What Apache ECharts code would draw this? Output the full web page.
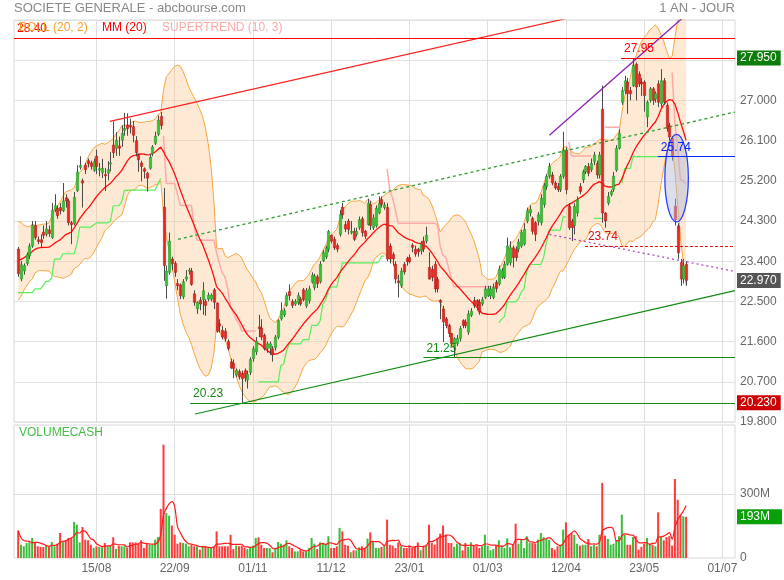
<!DOCTYPE html>
<html><head><meta charset="utf-8">
<script src="https://cdn.jsdelivr.net/npm/echarts@6/dist/echarts.min.js"></script>
<style>html,body{margin:0;padding:0;background:#fff}#c{width:784px;height:580px}</style>
</head><body><div id="c"></div>
<script>
// ---- warm-up history (before the visible window, needed for indicator start values) ----
const warmHighs  = [22.95,22.85,22.95,23.10,23.20,23.15,23.45,23.80,24.05,24.30,24.15,24.00,23.85,23.90,23.95,23.85,23.75,23.85,23.85];
const warmLows   = [22.45,22.40,22.50,22.70,22.80,22.70,22.95,23.30,23.60,23.85,23.70,23.55,23.40,23.50,23.55,23.40,23.30,23.45,23.40];
const warmCloses = [22.70,22.60,22.80,22.90,23.00,22.90,23.30,23.60,23.90,24.10,23.90,23.80,23.60,23.70,23.80,23.60,23.50,23.70,23.67];

// ---- daily OHLC (240 sessions) ----
const opens = [
23.67,23.00,23.18,23.35,23.52,23.74,24.20,23.88,23.88,24.05,
24.00,24.10,23.93,24.55,24.58,24.60,24.53,24.82,24.75,24.26,
24.24,24.98,25.50,25.20,25.55,25.65,25.60,25.43,25.75,25.44,
25.38,25.34,25.37,25.58,26.00,25.93,25.98,26.11,26.33,26.45,
26.44,26.41,26.10,25.78,25.60,25.47,25.37,25.48,25.81,26.04,
26.24,26.64,24.61,22.85,23.15,23.45,23.35,22.90,22.87,22.60,
23.00,23.18,23.18,22.67,22.33,22.53,22.54,22.50,22.55,22.55,
22.76,22.46,22.00,21.85,21.83,21.60,21.15,21.11,20.85,20.93,
20.89,20.95,20.74,20.91,21.22,21.37,21.93,21.90,21.74,21.44,
21.46,21.44,21.46,21.70,22.11,22.20,22.41,22.72,22.50,22.44,
22.47,22.55,22.76,22.40,22.52,22.93,22.81,23.05,22.94,23.41,
23.50,23.67,23.98,23.89,23.75,24.00,24.61,24.22,24.30,24.04,
24.07,24.00,24.15,24.35,24.07,24.22,24.67,24.15,24.19,24.48,
24.78,24.60,24.60,23.74,23.55,23.33,22.96,22.85,23.33,23.46,
23.48,23.76,23.67,23.67,23.63,23.85,23.85,23.26,23.22,23.33,
22.99,22.52,22.33,22.11,21.96,21.78,21.48,21.56,21.67,22.07,
22.04,21.81,22.19,22.52,22.52,22.48,22.44,22.59,22.63,22.63,
22.59,22.93,22.89,23.04,23.04,23.33,23.37,23.70,23.67,23.67,
23.74,23.78,24.30,24.48,24.36,24.26,24.28,24.26,24.67,25.07,
25.30,25.33,25.15,25.07,25.00,25.30,25.89,24.63,24.30,24.20,
24.48,25.07,25.22,25.40,25.52,25.45,25.63,25.59,25.33,26.80,
24.48,24.70,24.89,25.00,25.44,25.93,26.96,27.22,27.41,27.22,
27.33,27.81,27.59,27.41,27.41,26.63,27.00,27.26,27.03,27.37,
26.93,27.44,26.89,26.44,26.15,24.63,24.19,23.37,23.00,23.33];
const highs = [
23.72,23.40,23.35,23.60,23.80,24.30,24.30,23.95,24.00,24.20,
24.30,24.20,24.70,24.90,24.65,24.70,25.15,24.90,24.80,24.30,
24.95,25.55,25.75,25.25,25.60,25.70,25.65,25.70,25.90,25.60,
25.69,25.49,25.64,25.84,26.53,26.29,26.19,26.44,26.72,26.71,
26.59,26.54,26.20,25.80,25.65,25.50,25.40,25.80,26.00,26.30,
26.66,26.74,25.04,23.30,24.04,23.50,23.40,23.00,22.90,23.00,
23.20,23.25,23.25,22.75,22.50,22.60,22.93,22.55,22.70,22.68,
22.80,22.48,22.10,21.95,21.90,21.65,21.22,21.20,21.00,20.98,
20.95,21.00,20.95,21.25,21.50,21.70,22.20,22.10,21.78,21.60,
21.60,21.50,21.75,22.10,22.48,22.35,22.70,22.88,22.55,22.55,
22.70,22.60,22.80,22.80,22.85,23.15,23.12,23.10,23.40,23.65,
23.75,24.10,24.00,23.95,23.80,24.55,24.70,24.30,24.35,24.30,
24.15,24.15,24.40,24.40,24.10,24.80,24.75,24.45,24.65,24.85,
24.85,24.72,24.70,23.80,23.60,23.40,23.10,23.25,23.38,23.50,
23.55,23.80,23.75,23.70,23.85,23.95,24.17,23.60,23.30,23.40,
23.05,22.55,22.40,22.15,22.00,21.80,21.70,21.75,21.95,22.10,
22.10,22.30,22.35,22.60,22.55,22.55,22.60,22.85,22.85,22.85,
22.90,22.98,23.30,23.25,23.40,23.93,23.85,23.75,23.73,23.90,
24.10,24.25,24.60,24.65,24.40,24.30,24.50,24.90,25.15,25.35,
25.60,25.40,25.20,25.15,25.35,26.30,25.95,24.70,24.35,24.70,
24.85,25.15,25.45,25.55,25.60,25.70,25.85,25.65,25.85,27.33,
24.50,24.95,25.00,25.40,26.00,26.35,27.30,27.55,27.50,27.30,
27.95,27.85,27.65,27.50,27.45,27.00,27.30,27.30,27.20,27.45,
27.70,27.50,26.95,26.50,26.20,24.80,24.25,23.45,23.45,23.40];
const lows = [
23.05,22.95,23.10,23.30,23.45,23.70,23.88,23.78,23.70,23.90,
23.95,23.95,23.90,24.50,24.35,24.45,24.50,24.60,24.20,23.78,
24.20,24.95,25.45,24.60,25.35,25.50,25.45,25.40,25.35,25.30,
25.26,24.97,25.21,25.41,25.71,25.76,25.76,25.96,26.21,26.21,
26.26,26.06,25.75,25.40,25.19,25.25,24.96,25.45,25.75,26.00,
26.20,26.35,22.96,22.56,23.10,23.20,23.05,22.75,22.55,22.55,
22.95,23.10,22.85,22.40,22.22,22.30,22.20,22.18,22.50,22.50,
22.33,21.80,21.80,21.65,21.60,21.40,20.99,20.78,20.80,20.75,
20.23,20.70,20.55,20.85,21.15,21.30,21.70,21.63,21.40,21.35,
21.30,21.15,21.40,21.65,22.07,22.15,22.38,22.52,22.35,22.40,
22.42,22.40,22.50,22.35,22.45,22.90,22.75,22.80,22.90,23.38,
23.45,23.60,23.80,23.65,23.60,23.95,24.35,24.05,24.00,24.00,
23.85,23.95,24.10,23.95,23.90,24.20,24.10,24.10,24.15,24.45,
24.60,24.55,23.40,23.35,23.30,22.90,22.59,22.80,23.10,23.30,
23.35,23.60,23.50,23.50,23.55,23.60,23.80,22.99,22.95,22.70,
22.70,22.10,21.59,21.90,21.70,21.50,21.25,21.50,21.60,21.90,
21.90,21.75,22.15,22.35,22.30,22.20,22.40,22.55,22.60,22.55,
22.55,22.70,22.85,23.00,23.00,23.30,23.30,23.26,23.40,23.60,
23.70,23.75,24.25,24.40,24.00,23.85,24.20,24.20,24.60,25.00,
25.25,25.10,25.00,24.95,24.95,25.25,24.90,24.10,23.85,24.00,
24.40,24.90,25.15,25.35,25.30,25.40,25.55,25.25,25.25,24.26,
24.15,24.65,24.85,24.95,25.40,25.90,26.90,27.15,26.70,27.00,
27.30,27.00,27.30,27.10,26.75,26.40,26.95,26.90,26.95,26.85,
26.85,26.90,26.30,26.10,25.65,24.20,23.45,22.85,22.90,22.85];
const closes = [
23.12,23.32,23.30,23.55,23.74,24.20,23.93,23.84,23.82,23.98,
24.12,24.02,24.54,24.64,24.42,24.53,24.75,24.75,24.26,24.22,
24.83,25.40,25.55,25.15,25.45,25.58,25.52,25.63,25.52,25.47,
25.48,25.31,25.45,25.60,25.83,26.11,25.93,26.26,26.37,26.37,
26.41,26.22,25.83,25.67,25.52,25.41,25.26,25.73,25.96,26.20,
26.56,26.44,23.30,23.18,23.85,23.35,23.15,22.85,22.63,22.94,
23.05,23.20,22.88,22.48,22.48,22.44,22.74,22.41,22.64,22.64,
22.48,21.83,21.95,21.70,21.67,21.44,21.01,21.00,20.96,20.81,
20.77,20.79,20.87,21.20,21.44,21.61,21.89,21.70,21.44,21.55,
21.55,21.30,21.70,22.07,22.29,22.29,22.63,22.63,22.41,22.50,
22.63,22.44,22.54,22.74,22.78,23.09,23.07,22.90,23.33,23.59,
23.70,24.07,23.85,23.70,23.67,24.44,24.44,24.12,24.11,24.07,
23.89,24.07,24.33,24.04,23.96,24.70,24.20,24.37,24.59,24.70,
24.67,24.66,23.45,23.45,23.45,23.00,22.92,23.18,23.16,23.39,
23.39,23.71,23.56,23.61,23.79,23.67,23.98,23.00,23.04,22.78,
22.78,22.48,22.04,21.96,21.78,21.56,21.67,21.67,21.89,21.96,
21.96,22.22,22.28,22.41,22.41,22.26,22.54,22.78,22.78,22.78,
22.81,22.79,23.22,23.19,23.33,23.74,23.70,23.48,23.48,23.83,
24.04,24.11,24.53,24.56,24.07,24.00,24.44,24.81,25.10,25.30,
25.52,25.15,25.04,25.00,25.30,25.89,25.00,24.15,24.15,24.63,
24.78,24.96,25.40,25.52,25.37,25.59,25.78,25.33,25.78,24.48,
24.30,24.85,24.96,25.30,25.93,26.26,27.22,27.44,27.15,27.15,
27.78,27.30,27.37,27.37,27.11,26.96,27.26,27.00,27.15,26.96,
27.44,26.96,26.37,26.18,25.74,24.33,23.59,23.00,23.30,22.97];
// ---- daily traded value (millions) ----
const volumes = [
128,62,55,70,73,94,73,55,52,52,
62,52,75,55,67,117,78,83,94,94,
169,156,73,145,86,83,62,47,55,52,
50,70,55,58,97,42,58,55,55,47,
73,73,73,67,83,47,70,62,62,86,
98,230,531,211,198,152,109,67,73,70,
67,55,62,55,55,39,55,55,47,47,
52,125,55,55,55,55,109,42,58,55,
58,47,42,47,58,94,97,62,47,47,
47,27,47,75,67,62,83,55,47,31,
31,39,31,31,47,94,67,42,73,67,
67,102,47,47,55,141,125,62,58,27,
36,36,50,55,47,91,120,78,47,47,
52,62,180,62,58,47,73,55,47,47,
58,47,55,73,36,58,62,156,70,62,
94,114,152,109,70,70,52,67,70,36,
70,52,73,58,59,47,55,109,58,36,
42,58,83,58,47,92,50,66,161,67,
89,47,102,70,70,67,86,117,98,89,
86,47,39,55,62,133,167,109,117,109,
67,58,62,62,89,55,62,55,109,352,
105,89,62,67,83,102,203,109,62,62,
98,102,39,52,67,94,67,62,55,214,
98,83,98,102,58,370,273,200,195,193];

// ---- axis tick labels (session index -> date) ----
const tickIdx  = [28,56,84,112,140,168,196,224,252];
const tickText = ['15/08','22/09','01/11','11/12','23/01','01/03','12/04','23/05','01/07'];
const futureSessions = 17;

// ---- drawn analysis objects, in (session index, price) ----
const trendRed      = [[32.8, 26.53], [210, 29.03]];
const trendGreenDot = [[57.2, 23.89], [256.5, 26.74]];
const trendPurple   = [[190.1, 26.22], [240, 28.97]];
const trendPurpleDot= [[190.1, 24.00], [256.5, 23.17]];
const trendGreen    = [[63.3, 19.98], [256.5, 22.74]];
const levelValues = [28.40, Math.max(...highs), 25.74, 23.74, 21.25, Math.min(...lows)];
const levelStarts = [-1.5, 215.7, 228.9, 202.8, 145, 61.5];
const gapEllipse = [[235.6, 25.26, 4.2, 0.98]];

// ---- indicators ----
const n = closes.length, W = warmCloses.length;
const allC = warmCloses.concat(closes), allH = warmHighs.concat(highs), allL = warmLows.concat(lows);
const ma = [], bUp = [], bLo = [];
for (let i = 0; i < n; i++) {
  const t = i + W, win = allC.slice(Math.max(0, t - 19), t + 1);
  const m = win.reduce((a, b) => a + b, 0) / win.length;
  const sd = Math.sqrt(win.reduce((a, b) => a + (b - m) * (b - m), 0) / win.length);
  ma.push(m); bUp.push(m + 2 * sd); bLo.push(m - 2 * sd);
}
function supertrend(H, L, C, period, mult) {
  const st = [], dir = []; let atr = 0, fu = 0, fl = 0, trend = 1;
  for (let t = 0; t < C.length; t++) {
    const tr = t === 0 ? H[t] - L[t] : Math.max(H[t] - L[t], Math.abs(H[t] - C[t-1]), Math.abs(L[t] - C[t-1]));
    atr = t < period ? (atr * t + tr) / (t + 1) : (atr * (period - 1) + tr) / period;
    const hl2 = (H[t] + L[t]) / 2, bu = hl2 + mult * atr, bl = hl2 - mult * atr;
    if (t === 0) { fu = bu; fl = bl; }
    else {
      fu = (bu < fu || C[t-1] > fu) ? bu : fu;
      fl = (bl > fl || C[t-1] < fl) ? bl : fl;
      if (trend === 1 && C[t] < fl) trend = -1;
      else if (trend === -1 && C[t] > fu) trend = 1;
    }
    st.push(trend === 1 ? fl : fu); dir.push(trend);
  }
  return { st, dir };
}
const ST = supertrend(allH, allL, allC, 10, 3);
const stUp = [], stDn = [];
for (let i = 0; i < n; i++) {
  const v = ST.st[i + W], d = ST.dir[i + W];
  stUp.push(d === 1 ? v : '-'); stDn.push(d === -1 ? v : '-');
}
const volMA = volumes.map((v, i) => { const w = volumes.slice(Math.max(0, i - 4), i + 1); return w.reduce((a, b) => a + b, 0) / w.length; });

// ---- category axis (1 leading blank + sessions + future) ----
const nCat = 1 + n + futureSessions;
const cats = Array.from({ length: nCat }, (_, k) => String(k - 1));
const pad = arr => ['-'].concat(arr);
const isTick = k => tickIdx.indexOf(k - 1) >= 0;

const GREEN = '#33c333', RED = '#e8261e';
const candleData = closes.map((c, i) => [i + 1, opens[i], c, lows[i], highs[i]]);
const volData = pad(volumes.map((v, i) => ({ value: v, itemStyle: { color: closes[i] >= opens[i] ? '#3cbb3c' : '#ff3a3a' } })));

function renderCandle(params, api) {
  const k = api.value(0), o = api.value(1), c = api.value(2), l = api.value(3), h = api.value(4);
  const pO = api.coord([k, o]), pC = api.coord([k, c]), pL = api.coord([k, l]), pH = api.coord([k, h]);
  const bw = api.size([1, 0])[0] * 0.82;
  const x = Math.round(pO[0]) + 0.5;
  const top = Math.min(pO[1], pC[1]), bot = Math.max(pO[1], pC[1]);
  const up = c >= o;
  return { type: 'group', children: [
    { type: 'line', shape: { x1: x, y1: pH[1], x2: x, y2: pL[1] }, style: { stroke: '#4a4a4a', lineWidth: 1 } },
    { type: 'rect', shape: { x: x - bw / 2, y: top, width: bw, height: Math.max(bot - top, 1) },
      style: { fill: up ? GREEN : RED, stroke: up ? '#1f8f1f' : '#a81410', lineWidth: 0.5 } }
  ]};
}
function renderEllipse(params, api) {
  const c = api.coord([api.value(0), api.value(1)]);
  const s = api.size([api.value(2), api.value(3)]);
  return { type: 'ellipse', shape: { cx: c[0], cy: c[1], rx: s[0], ry: s[1] },
    style: { fill: 'rgba(175,185,215,0.45)', stroke: '#2a3cff', lineWidth: 1.3 } };
}

const FONT = 'Arial, "Liberation Sans", Helvetica, sans-serif';
const NOLINE = { color: 'rgba(0,0,0,0)', width: 0 };
const boxLabel = (text, bg, padR) => ({ show: true, position: 'end', formatter: text, color: '#fff', backgroundColor: bg,
  padding: [2, padR, 1, 3], fontSize: 12, fontFamily: FONT, distance: 2 });
const levelStyles = [
  { color: '#ff0000', type: 'solid', box: null },
  { color: '#ff0000', type: 'solid', box: '#0a7d0a' },
  { color: '#0022ff', type: 'solid', box: null },
  { color: '#e01010', type: [3, 2], box: null },
  { color: '#108a10', type: 'solid', box: null },
  { color: '#108a10', type: 'solid', box: '#cc0000' }
];
const levelMarks = [], boxMarks = [];
levelValues.forEach((v, j) => {
  const s = levelStyles[j];
  levelMarks.push([
    { coord: [levelStarts[j], v], lineStyle: { color: s.color, type: s.type, width: 1 },
      label: { show: true, position: 'insideStartTop', formatter: v.toFixed(2), color: s.color, fontSize: 12, fontFamily: FONT, distance: 3 } },
    { coord: [nCat - 1.5, v] }
  ]);
  if (s.box) boxMarks.push({ yAxis: v, lineStyle: NOLINE, label: boxLabel(v.toFixed(3), s.box, 4) });
});
boxMarks.push({ yAxis: closes[n - 1], lineStyle: NOLINE, label: boxLabel(closes[n - 1].toFixed(3), '#555', 4) });

function tline(data, color, type, width) {
  return { type: 'line', xAxisIndex: 2, yAxisIndex: 0, data: data, symbol: 'none', silent: true, clip: true,
    lineStyle: { color: color, type: type, width: width }, z: 5 };
}

const catAxisCommon = { type: 'category', data: cats, boundaryGap: true,
  axisLine: { show: false }, axisTick: { show: false },
  splitLine: { show: true, interval: isTick, alignWithLabel: true, lineStyle: { color: '#dedede' } } };

const option = {
  animation: false,
  textStyle: { fontFamily: FONT },
  grid: [
    { left: 14, right: 49, top: 20, height: 402, show: true, borderColor: '#d8d8d8', backgroundColor: 'transparent' },
    { left: 14, right: 49, top: 425, height: 133, show: true, borderColor: '#d8d8d8' }
  ],
  xAxis: [
    Object.assign({}, catAxisCommon, { gridIndex: 0, axisLabel: { show: false } }),
    Object.assign({}, catAxisCommon, { gridIndex: 1, axisLabel: { show: true, interval: isTick, color: '#666', fontSize: 12, margin: 5,
      formatter: (v, idx) => { const j = tickIdx.indexOf(idx - 1); return j >= 0 ? tickText[j] : ''; } } }),
    { type: 'value', gridIndex: 0, min: -1.5, max: nCat - 1.5, show: false },
    { type: 'value', gridIndex: 1, min: -1.5, max: nCat - 1.5, show: false }
  ],
  yAxis: [
    { type: 'value', gridIndex: 0, position: 'right', min: 19.8, max: 28.8, interval: 0.9,
      axisLine: { show: false }, axisTick: { show: false },
      axisLabel: { color: '#666', fontSize: 12, margin: 5, formatter: v => (Math.abs(v - 28.8) < 1e-6 || Math.abs(v - 27.9) < 1e-6) ? '' : v.toFixed(3) },
      splitLine: { lineStyle: { color: '#e2e2e2' } } },
    { type: 'value', gridIndex: 1, position: 'right', min: 0, max: 623, interval: 300,
      axisLine: { show: false }, axisTick: { show: false }, splitLine: { show: false },
      axisLabel: { color: '#666', fontSize: 12, margin: 5, formatter: v => v === 0 ? '0' : (v === 300 ? '300M' : '') } }
  ],
  graphic: [
    { type: 'text', left: 14, top: 2, style: { text: 'SOCIETE GENERALE - abcbourse.com', fill: '#888', fontSize: 13, fontFamily: FONT } },
    { type: 'text', right: 49, top: 2, style: { text: '1 AN - JOUR', fill: '#888', fontSize: 13, fontFamily: FONT } },
    { type: 'text', left: 19, top: 22, z: 100, style: { text: 'BOLL (20, 2)', fill: '#f5a030', fontSize: 12, fontFamily: FONT } },
    { type: 'text', left: 102, top: 22, z: 100, style: { text: 'MM (20)', fill: '#ff0000', fontSize: 12, fontFamily: FONT } },
    { type: 'text', left: 162, top: 22, z: 100, style: { text: 'SUPERTREND (10, 3)', fill: '#ffa8a8', fontSize: 12, fontFamily: FONT } },
    { type: 'text', left: 19, top: 427, z: 100, style: { text: 'VOLUMECASH', fill: '#44bb44', fontSize: 12, fontFamily: FONT } }
  ],
  series: [
    { type: 'line', xAxisIndex: 0, yAxisIndex: 0, data: pad(bLo), stack: 'bb', symbol: 'none', silent: true, lineStyle: { opacity: 0 }, z: 1 },
    { type: 'line', xAxisIndex: 0, yAxisIndex: 0, data: pad(bUp.map((u, i) => u - bLo[i])), stack: 'bb', symbol: 'none', silent: true,
      lineStyle: { opacity: 0 }, areaStyle: { color: 'rgba(249,198,141,0.38)', opacity: 1 }, z: 1 },
    { type: 'line', xAxisIndex: 0, yAxisIndex: 0, data: pad(bUp), symbol: 'none', silent: true, lineStyle: { color: '#f7a540', width: 1 }, z: 2 },
    { type: 'line', xAxisIndex: 0, yAxisIndex: 0, data: pad(bLo), symbol: 'none', silent: true, lineStyle: { color: '#f7a540', width: 1 }, z: 2 },
    { type: 'line', xAxisIndex: 0, yAxisIndex: 0, data: pad(stUp), symbol: 'none', silent: true, lineStyle: { color: '#5aee5a', width: 1.2 }, z: 2 },
    { type: 'line', xAxisIndex: 0, yAxisIndex: 0, data: pad(stDn), symbol: 'none', silent: true, lineStyle: { color: '#ffaaaa', width: 1.5 }, z: 2 },
    { type: 'line', xAxisIndex: 0, yAxisIndex: 0, data: pad(ma), symbol: 'none', silent: true, lineStyle: { color: '#ff1010', width: 1.3 }, z: 3 },
    { type: 'custom', xAxisIndex: 0, yAxisIndex: 0, data: candleData, renderItem: renderCandle, encode: { x: 0, y: [1, 2, 3, 4] }, clip: true, silent: true, z: 4 },
    tline(trendRed, '#ff2020', 'solid', 1.2),
    Object.assign(tline(trendGreenDot, '#2f9a2f', [3, 3], 1.3), {
      markLine: { silent: true, symbol: ['none', 'none'], animation: false, data: levelMarks, z: 20 } }),
    tline(trendPurple, '#8c20b4', 'solid', 1.3),
    tline(trendPurpleDot, '#b048c4', [2, 3], 1.3),
    tline(trendGreen, '#128a12', 'solid', 1.2),
    { type: 'custom', xAxisIndex: 2, yAxisIndex: 0, data: gapEllipse, renderItem: renderEllipse, encode: { x: 0, y: 1 }, clip: true, silent: true, z: 6 },
    // unclipped holder for the right-hand value boxes (price panel)
    { type: 'line', xAxisIndex: 2, yAxisIndex: 0, data: [[0, closes[n - 1]]], symbol: 'none', silent: true, clip: false,
      lineStyle: NOLINE, z: 30,
      markLine: { silent: true, symbol: ['none', 'none'], animation: false, data: boxMarks, z: 30 } },
    { type: 'bar', xAxisIndex: 1, yAxisIndex: 1, data: volData, barWidth: '72%', silent: true, z: 3,
      markLine: { silent: true, symbol: ['none', 'none'], animation: false, z: 1, data: [
        { yAxis: 300, lineStyle: { color: '#dedede', type: 'solid', width: 1 }, label: { show: false } } ] } },
    { type: 'line', xAxisIndex: 1, yAxisIndex: 1, data: pad(volMA), symbol: 'none', silent: true, smooth: 0.3, lineStyle: { color: '#ff1a1a', width: 1.2 }, z: 5 },
    // unclipped holder for the last-volume box
    { type: 'line', xAxisIndex: 3, yAxisIndex: 1, data: [[0, volumes[n - 1]]], symbol: 'none', silent: true, clip: false,
      lineStyle: NOLINE, z: 30,
      markLine: { silent: true, symbol: ['none', 'none'], animation: false, z: 30,
        data: [{ yAxis: volumes[n - 1], lineStyle: NOLINE, label: boxLabel(volumes[n - 1] + 'M', '#0aa00a', 12) }] } }
  ]
};
const chart = echarts.init(document.getElementById('c'), null, { renderer: 'canvas' });
chart.setOption(option);
</script></body></html>
